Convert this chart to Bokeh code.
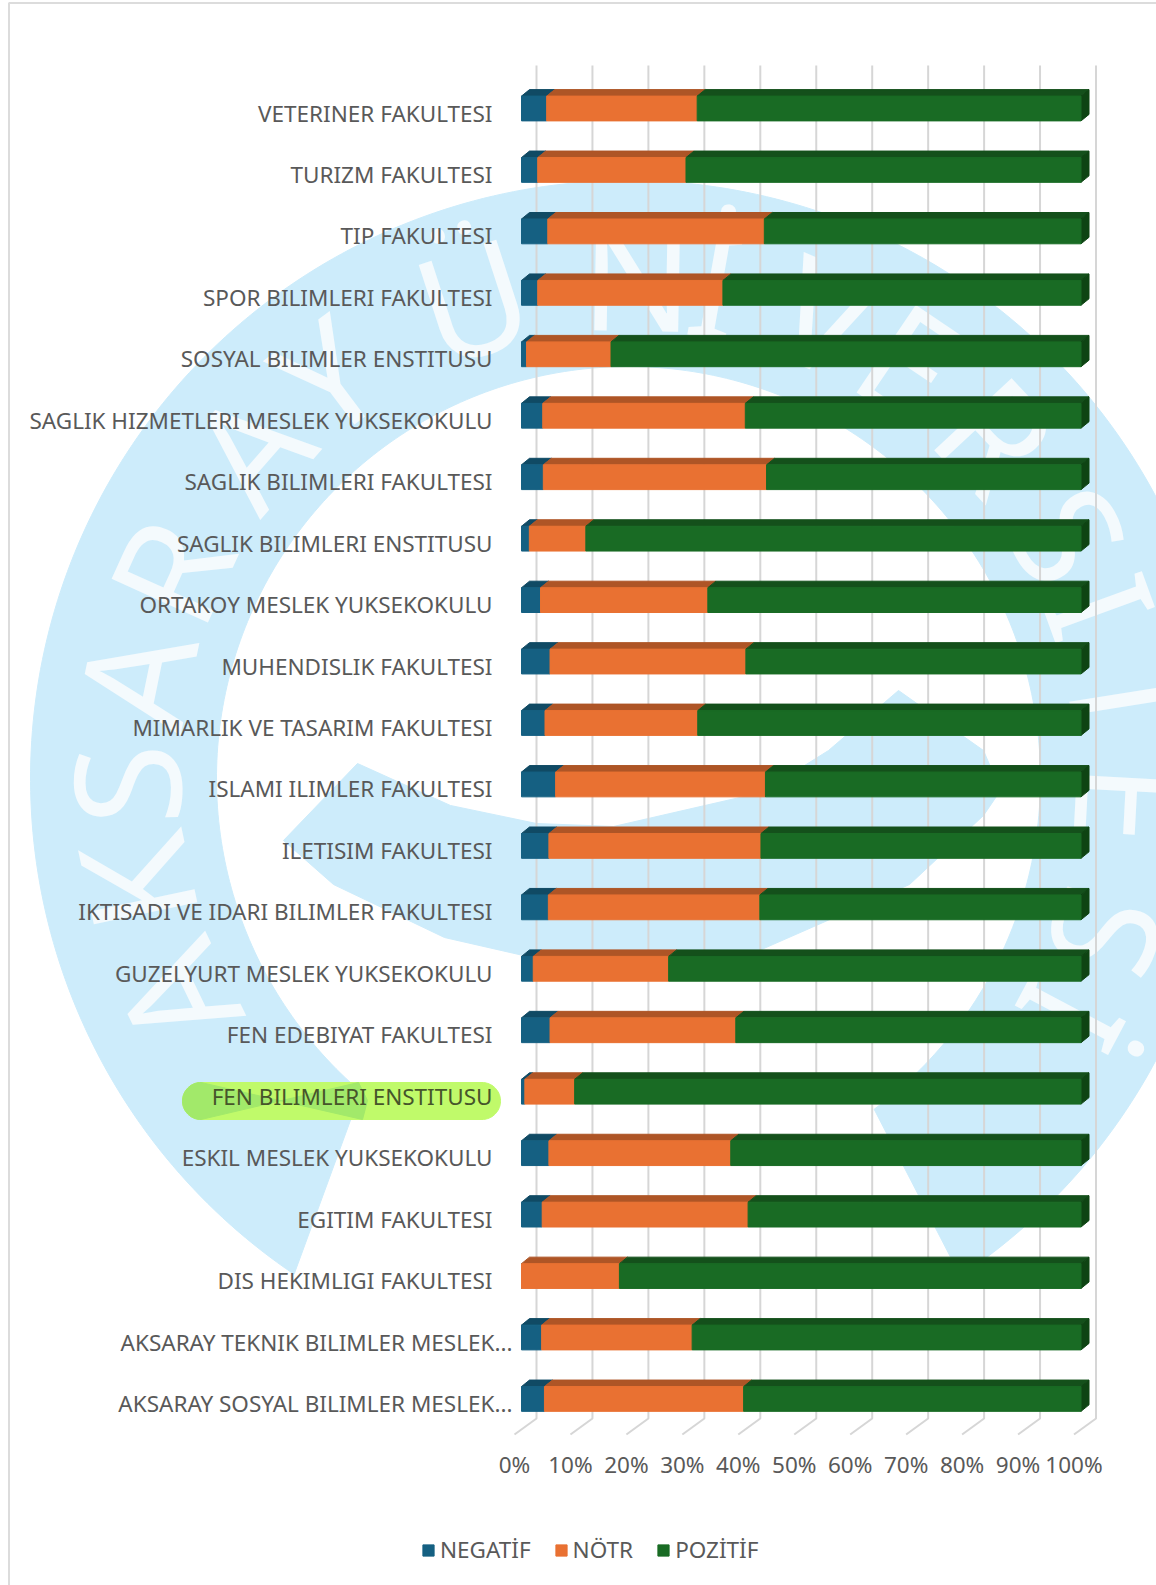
import numpy as np
from bokeh.embed import file_html
from bokeh.resources import INLINE
from bokeh.plotting import figure
from bokeh.core.properties import value
from bokeh.models import (ColumnDataSource, FixedTicker, Legend, LegendItem, LinearAxis,
                          PrintfTickFormatter, Range1d)

categories = ["VETERINER FAKULTESI", "TURIZM FAKULTESI", "TIP FAKULTESI", "SPOR BILIMLERI FAKULTESI",
              "SOSYAL BILIMLER ENSTITUSU", "SAGLIK HIZMETLERI MESLEK YUKSEKOKULU", "SAGLIK BILIMLERI FAKULTESI",
              "SAGLIK BILIMLERI ENSTITUSU", "ORTAKOY MESLEK YUKSEKOKULU", "MUHENDISLIK FAKULTESI",
              "MIMARLIK VE TASARIM FAKULTESI", "ISLAMI ILIMLER FAKULTESI", "ILETISIM FAKULTESI",
              "IKTISADI VE IDARI BILIMLER FAKULTESI", "GUZELYURT MESLEK YUKSEKOKULU", "FEN EDEBIYAT FAKULTESI",
              "FEN BILIMLERI ENSTITUSU", "ESKIL MESLEK YUKSEKOKULU", "EGITIM FAKULTESI", "DIS HEKIMLIGI FAKULTESI",
              "AKSARAY TEKNIK BILIMLER MESLEK...", "AKSARAY SOSYAL BILIMLER MESLEK..."]
negatif = [4.5, 2.9, 4.7, 2.9, 0.9, 3.8, 3.9, 1.4, 3.4, 5.1, 4.2, 6.1, 4.9, 4.8, 2.1, 5.1, 0.6, 4.9, 3.7, 0.0, 3.6, 4.1]
notr = [26.9, 26.5, 38.7, 33.1, 15.1, 36.2, 39.9, 10.1, 29.9, 35.0, 27.3, 37.5, 37.9, 37.8, 24.2, 33.2, 8.9, 32.5, 36.8, 17.5, 26.9, 35.6]
pozitif = [68.6, 70.6, 56.6, 64.0, 84.0, 60.0, 56.2, 88.5, 66.7, 59.9, 68.5, 56.4, 57.2, 57.4, 73.7, 61.7, 90.5, 62.6, 59.5, 82.5, 69.5, 60.3]
series_names = ["NEGATİF", "NÖTR", "POZİTİF"]
front_colors = ["#156082", "#E97132", "#196B24"]
top_colors = ["#104A64", "#AE5526", "#14501B"]
side_color = "#0E4413"
x_ticks = list(range(0, 101, 10))
watermark_letters = list("AKSARAYÜNİVERSİTESİ")
watermark_angles = [-115.8, -102, -90.7, -78.5, -65.6, -48.9, -36.9, -18, 1, 10, 23, 34, 47, 61, 70, 81, 93, 108, 118]

W, H = 1156, 1585
TEXT = "#595959"
FONT = "Noto Sans"
FS = "22.5px"
SX = 5.595                # px per percent
X0 = 514                  # px of 0% on the floor's front edge
SY = 61.45                # px per category
Y0 = 112.5                # px of the first label
plane = 7 / SX            # bars stand 7px behind the floor's front edge
lift = 4.5 / SY           # and a little above their label
half = 12.4 / SY
dx, dy = 8 / SX, 6.5 / SY

p = figure(width=W, height=H, output_backend="svg", toolbar_location=None,
           x_axis_location=None, y_axis_location=None, min_border=0,
           x_range=Range1d(-X0 / SX, (W - X0) / SX),
           y_range=Range1d((H - Y0) / SY, -Y0 / SY),
           margin=(0, -8, -8, 0), outline_line_color=None, background_fill_color="#FFFFFF")
p.grid.visible = False
p.extra_x_ranges["px"] = Range1d(0, W)
p.extra_y_ranges["px"] = Range1d(H, 0)
PX = dict(x_range_name="px", y_range_name="px")

# watermark
BLUE = "#CDECFB"
CX, CY, RO, RI = 628, 778, 598, 412
a_out = np.radians(np.linspace(-146, 146.3, 300))
a_in = np.radians(np.linspace(143.4, -139.5, 300))
ring_x = np.r_[CX + RO * np.sin(a_out), CX + RI * np.sin(a_in)]
ring_y = np.r_[CY - RO * np.cos(a_out), CY - RI * np.cos(a_in)]
p.patch(ring_x, ring_y, color=BLUE, **PX)
p.patch([283, 357, 450, 536, 613, 761, 828, 898, 983, 1000, 983, 909, 761, 536, 444, 333],
        [840, 763, 805, 823, 826, 792, 750, 690, 750, 790, 815, 884, 949, 958, 937, 884], color=BLUE, **PX)
th = np.radians(watermark_angles)
p.text(CX + 505 * np.sin(th), CY - 505 * np.cos(th), text=watermark_letters, angle=-th,
       text_align="center", text_baseline="middle", text_color="#F4FAFD",
       text_font=value("Noto Sans"), text_font_size="148px", **PX)

# frame of the screenshot
p.line([8.5, 8.5, W], [H, 2.5, 2.5], line_color="#DCDCDC", line_width=2, **PX)

# highlight
t = np.linspace(-np.pi / 2, np.pi / 2, 40)
pill_x = np.r_[200.5 - 18.5 * np.cos(t), 481.5 + 18.5 * np.cos(t[::-1])]
pill_y = np.r_[1100.5 + 18.5 * np.sin(t), 1100.5 + 18.5 * np.sin(t[::-1])]
p.patch(pill_x, pill_y, color="#C0FA6A", **PX)
p.patch(np.r_[200.5 - 18.5 * np.cos(t), 358, 367, 362],
        np.r_[1100.5 + 18.5 * np.sin(t), 1082, 1100, 1119], color="#A2E96A", **PX)

# gridlines: floor diagonal, then back wall
FLOOR_F, FLOOR_B, TOP = (1434 - Y0) / SY, (1418 - Y0) / SY, (65 - Y0) / SY
back = 22 / SX
p.multi_line([[v, v + back, v + back] for v in x_ticks],
             [[FLOOR_F, FLOOR_B, TOP] for _ in x_ticks], line_color="#D6D6D6", line_width=2)

# bars
n = len(categories)
y = np.arange(n)
yc = y - lift
renderers = []
left = np.zeros(n) + plane
for vals, fc, tc in zip([negatif, notr, pozitif], front_colors, top_colors):
    right = left + np.array(vals)
    xs, ys = [], []
    for l, r, c in zip(left, right, yc):
        if r - l > 0:
            xs.append([l, r, r + dx, l + dx])
            ys.append([c - half, c - half, c - half - dy, c - half - dy])
    p.patches(xs, ys, color=tc)
    renderers.append((left.copy(), right.copy()))
    left = right
xs, ys = [], []
for r, c in zip(left, yc):
    xs.append([r, r + dx, r + dx, r])
    ys.append([c - half, c - half - dy, c + half - dy, c + half])
p.patches(xs, ys, color=side_color)
legend_items = []
for (l, r), fc, name in zip(renderers, front_colors, series_names):
    src = ColumnDataSource(dict(y=yc, left=l, right=r))
    g = p.hbar(y="y", left="left", right="right", height=2 * half, color=fc, source=src)
    legend_items.append(LegendItem(label=name, renderers=[g]))

# category labels as real axes inside the frame
def cat_axis(idx, px_right, color):
    ax = LinearAxis(fixed_location=(px_right - X0) / SX, ticker=FixedTicker(ticks=list(idx)),
                    major_label_overrides={int(i): categories[i] for i in idx},
                    axis_line_color=None, major_tick_line_color=None, minor_tick_line_color=None,
                    major_label_standoff=0, major_label_text_color=color,
                    major_label_text_font=FONT, major_label_text_font_size=FS)
    p.add_layout(ax, "left")

plain = [i for i in range(n) if not categories[i].endswith("...") and not categories[i].startswith("FEN BILIMLERI")]
cut = [i for i in range(n) if categories[i].endswith("...")]
marked = [i for i in range(n) if categories[i].startswith("FEN BILIMLERI")]
cat_axis(plain, 498, TEXT)
cat_axis(cut, 518, TEXT)
cat_axis(marked, 498, "#46552A")

xax = LinearAxis(fixed_location=FLOOR_F, ticker=FixedTicker(ticks=x_ticks),
                 formatter=PrintfTickFormatter(format="%d%%"),
                 axis_line_color=None, major_tick_line_color=None, minor_tick_line_color=None,
                 major_label_standoff=8, major_label_text_color=TEXT,
                 major_label_text_font=FONT, major_label_text_font_size=FS)
p.add_layout(xax, "below")

legend = Legend(items=legend_items, orientation="horizontal", location=(421, H - 1565),
                glyph_width=14, glyph_height=14, spacing=23, padding=0, margin=0, label_standoff=5,
                background_fill_alpha=0, border_line_color=None,
                label_text_color=TEXT, label_text_font=FONT, label_text_font_size="22.5px")
p.add_layout(legend)

open("out.html", "w").write(file_html(p, INLINE))
